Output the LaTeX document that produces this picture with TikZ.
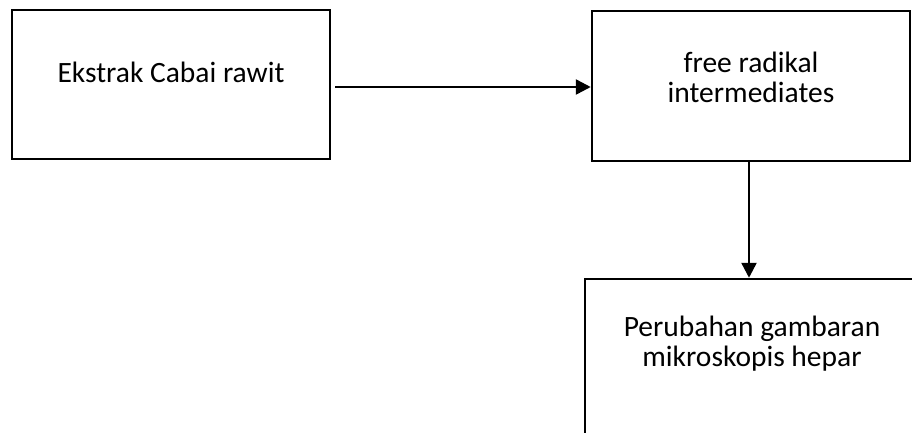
\documentclass[tikz,border=0pt]{standalone}
\usepackage{fontspec}
\setmainfont{Carlito}
\usepackage{tikz}
\usetikzlibrary{arrows.meta, positioning}

\begin{document}
\begin{tikzpicture}[x=1pt, y=-1pt,
    kotak/.style={draw=black, line width=2.5pt, rectangle, align=center, inner sep=0pt, font=\fontsize{29.5}{30}\selectfont},
    panah/.style={line width=2.5pt, -{Triangle[length=15pt, width=15pt]}}]
    % Page frame
    \useasboundingbox (0,0) rectangle (912,432);
    \clip (0,0) rectangle (912,432);

    % ==== Boxes ====
    \node[kotak, minimum width=318pt, minimum height=149pt, text height=20pt, text depth=25pt] (ekstrak) at (171, 84.5) {Ekstrak Cabai rawit};
    \node[kotak, minimum width=318pt, minimum height=150pt, text height=52pt, text depth=20pt] (radikal) at (751, 86) {free radikal\\intermediates};
    \node[kotak, minimum width=334pt, minimum height=166pt, text height=28pt, text depth=20pt] (hepar) at (752, 362) {Perubahan gambaran\\mikroskopis hepar};

    % ==== Arrows ====
    \coordinate (awal) at ([xshift=4pt, yshift=-2.5pt]ekstrak.east);
    \draw[panah] (awal) -- (awal -| radikal.west);
    \draw[panah] ([xshift=-2pt]radikal.south) -- ([xshift=-2pt]radikal.south |- hepar.north);
\end{tikzpicture}
\end{document}
